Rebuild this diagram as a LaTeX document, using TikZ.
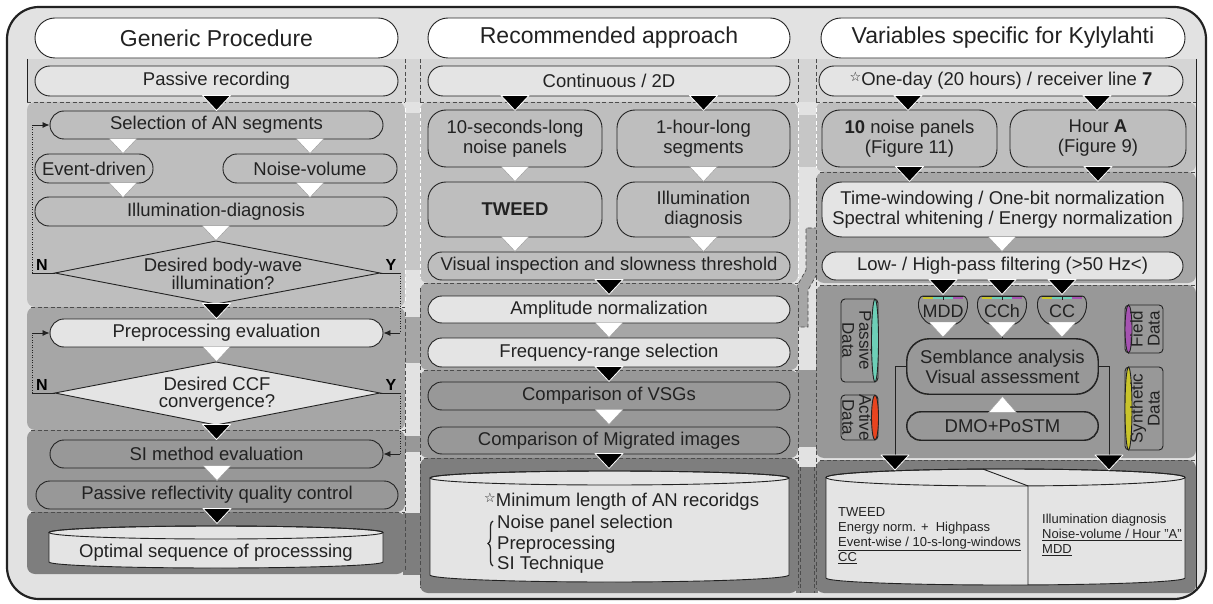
\documentclass[tikz,border=0pt]{standalone}
\usepackage{fontspec}
\setmainfont{Liberation Sans}
\newfontfamily\symfont{DejaVu Sans}
\usetikzlibrary{arrows.meta,decorations.pathreplacing}
\definecolor{bgc}{HTML}{E2E2E2}
\definecolor{lone}{HTML}{D5D5D5}
\definecolor{ltwo}{HTML}{BEBEBE}
\definecolor{lthree}{HTML}{A6A6A6}
\definecolor{lfour}{HTML}{989898}
\definecolor{lfive}{HTML}{7E7E7E}
\definecolor{lbox}{HTML}{E4E4E4}
\definecolor{gtwo}{HTML}{C6C6C6}
\definecolor{cyel}{HTML}{C9C42B}
\definecolor{cteal}{HTML}{6DCFB7}
\definecolor{cpur}{HTML}{A553B1}
\definecolor{cred}{HTML}{E8441F}
\definecolor{ink}{HTML}{222222}
\newcommand{\fsbox}{\fontsize{18.5}{20}\selectfont}
\newcommand{\fstitle}{\fontsize{23}{26}\selectfont}
\newcommand{\fssmall}{\fontsize{13}{15}\selectfont}
\newcommand{\fsdata}{\fontsize{17}{17}\selectfont}
\newcommand{\fsyn}{\fontsize{16}{16}\selectfont\bfseries}
\newcommand{\smallstar}{\raisebox{4pt}{\symfont\fontsize{13}{13}\selectfont ☆}}
\newcommand{\tridn}[2]{\filldraw[#1] #2 ++(-14,-1) -- ++(28,0) -- ++(-14,15) -- cycle;}
\newcommand{\triapex}[2]{\filldraw[#1] #2 -- ++(-14,-15) -- ++(28,0) -- cycle;}
\newcommand{\smallshape}[2]{%
  \filldraw[fill=lfour, draw=ink, line width=0.9pt] (#1-20,296) -- (#1+20,296) .. controls (#1+27,296) and (#1+27,318) .. (#1+13,324) -- (#1-13,324) .. controls (#1-27,318) and (#1-27,296) .. (#1-20,296) -- cycle;
  \fill[cyel] (#1-20,296.5) rectangle (#1-10,299);
  \fill[cteal] (#1-10,296.5) rectangle (#1+10,299);
  \fill[cpur] (#1+10,296.5) rectangle (#1+20,299);
  \draw[ink, line width=0.6pt] (#1,296) -- (#1,299.5);
  \draw[ink, line width=0.9pt] (#1-20,296) -- (#1+20,296);
  \node[font=\fontsize{18}{18}\selectfont, text=ink, inner sep=0] (#2) at (#1,311) {#2};
  \coordinate (#2b) at (#1,323);}
\newcommand{\bars}[3]{% node, radius, colour of bottom middle
  \begin{scope}
  \clip[rounded corners=#2] (#1.north west) rectangle (#1.south east);
  \fill[cyel] ([xshift=-86pt]#1.north) rectangle ([xshift=-41pt,yshift=3pt]#1.north);
  \fill[cteal] ([xshift=-41pt]#1.north) rectangle ([xshift=41pt,yshift=3pt]#1.north);
  \fill[cpur] ([xshift=41pt]#1.north) rectangle ([xshift=86pt,yshift=3pt]#1.north);
  \fill[cyel] ([xshift=-86pt]#1.south) rectangle ([xshift=-41pt,yshift=-3pt]#1.south);
  \fill[#3] ([xshift=-41pt]#1.south) rectangle ([yshift=-3pt]#1.south);
  \end{scope}
  \draw[ink, line width=0.6pt] (#1.north) -- ([yshift=3.5pt]#1.north);
  \draw[ink, line width=0.9pt, rounded corners=#2] (#1.north west) rectangle (#1.south east);}

\tikzset{
 bx/.style={draw=ink, line width=0.9pt, inner sep=0pt, text=ink, font=\fsbox, align=center},
 pill/.style={bx, rounded corners=14, minimum height=28},
 lpill/.style={pill, fill=lbox},
 ttl/.style={bx, fill=white, rounded corners=20, minimum height=40, font=\fstitle},
 bigbox/.style={bx, rounded corners=18, minimum height=57},
 btri/.style={fill=black, draw=white, line width=0.8pt, line join=round},
 wtri/.style={fill=white, draw=black!40, line width=0.4pt},
 dedge/.style={draw=black!70, line width=0.7pt, dash pattern=on 4pt off 2.5pt},
 wedge/.style={draw=white, line width=0.7pt, dash pattern=on 4pt off 2.5pt},
 outl/.style={draw=ink, line width=0.9pt},
 fb/.style={draw=ink, line width=0.8pt},
 fbd/.style={draw=ink, line width=0.8pt, dash pattern=on 1pt off 1.5pt},
 arr/.style={-{Latex[length=7pt,width=6pt]}},
 yn/.style={font=\fsyn, text=black, inner sep=0},
 datalbl/.style={font=\fsdata, text=ink, align=center, inner sep=0},
 cyltxt/.style={font=\fssmall, text=ink, align=left, inner sep=0, anchor=west},
}
\begin{document}
\begin{tikzpicture}[x=1pt,y=-1pt]
\useasboundingbox (0,0) rectangle (1213,604);
\filldraw[fill=bgc, draw=ink, line width=2.2pt, rounded corners=32] (7,7) rectangle (1206,599);

% connectors between columns
\fill[gtwo] (403,113) rectangle (422,270);
\fill[lthree] (403,317) rectangle (422,363);
\fill[lfour] (403,436) rectangle (422,452);
\fill[lfive] (403,513) rectangle (422,575);
\fill[gtwo] (796,115) rectangle (818,167);
\filldraw[fill=lthree, dedge] (818,228) -- (806,228) -- (806,270) -- (797,286) -- (797,327) -- (808,327) -- (808,290) -- (817,274) -- cycle;
\fill[lfour] (796,370) rectangle (818,447);
\fill[lfive] (796,467) rectangle (818,593);
\draw[dedge] (800,467) -- (800,593);
\draw[dedge] (814,467) -- (814,593);

% level 1 band
\fill[lone] (27,59) rectangle (1196,102);
\draw[outl, line width=0.7pt] (27,59) -- (27,102);
\foreach \xx in {405,420,798,816} \draw[dedge] (\xx,59) -- (\xx,102);

% column bands
\fill[ltwo, rounded corners=8] (27,102) rectangle (405,307);
\fill[lthree, rounded corners=8] (27,307) rectangle (405,430);
\fill[lfour, rounded corners=8] (27,430) rectangle (405,512);
\fill[lfive, rounded corners=8] (27,512) rectangle (405,574);
\fill[ltwo, rounded corners=8] (420,102) rectangle (798,283);
\fill[lthree, rounded corners=8] (420,283) rectangle (798,370);
\fill[lfour, rounded corners=8] (420,370) rectangle (798,458);
\fill[lfive, rounded corners=8] (420,458) rectangle (798,593);
\fill[ltwo, rounded corners=8] (816,102) rectangle (1196,172);
\fill[lthree, rounded corners=8] (816,172) rectangle (1196,283);
\fill[lfour, rounded corners=8] (816,285) rectangle (1196,458);
\fill[lfive, rounded corners=8] (816,460) rectangle (1196,593);

% band edges
\draw[dedge] (27,102) -- (405,102);
\draw[dedge] (420,102) -- (798,102);
\draw[dedge] (816,102) -- (1196,102);
\draw[dedge] (31,307) -- (405,307);
\draw[dedge] (31,430) -- (405,430);
\draw[dedge] (31,512) -- (405,512);
\draw[dedge] (424,283) -- (798,283);
\draw[dedge] (424,370) -- (798,370);
\draw[dedge] (424,458) -- (798,458);
\draw[dedge] (820,172) -- (1196,172);
\draw[dedge] (820,285) -- (1196,285);
\draw[dedge] (820,460) -- (1196,460);
\draw[wedge] (405,108) -- (405,302);
\draw[wedge] (420,108) -- (420,278);
\draw[wedge] (798,108) -- (798,278);
\draw[wedge] (816,108) -- (816,168);
\draw[dedge] (405,312) -- (405,570);
\draw[dedge] (420,288) -- (420,588);
\draw[dedge] (798,288) -- (798,588);
\draw[dedge] (816,178) -- (816,588);
\draw[outl, line width=0.7pt] (1196,59) -- (1196,588);

% titles
\node[ttl, minimum width=363] (t1) at (216.5,38) {Generic Procedure};
\node[ttl, minimum width=362] (t2) at (609,38) {Recommended approach};
\node[ttl, minimum width=364] (t3) at (1003,38) {Variables specific for Kylylahti};

% ---------- left column
\node[lpill, minimum width=363, minimum height=30, rounded corners=15] (pr) at (216.5,81) {Passive recording};
\node[pill, minimum width=333] (sel) at (216.5,125) {Selection of AN segments};
\node[pill, minimum width=118, minimum height=29] (ev) at (94,168.5) {Event-driven};
\node[pill, minimum width=174, minimum height=29] (nv) at (310,168.5) {Noise-volume};
\node[pill, minimum width=362, minimum height=29] (ill) at (216,211.5) {Illumination-diagnosis};
\coordinate (d1t) at (216,241);
\coordinate (d1r) at (380,273);
\coordinate (d1b) at (216,304);
\coordinate (d1l) at (55,273);
\draw[outl] (d1t) -- (d1r) -- (d1b) -- (d1l) -- cycle;
\node[font=\fontsize{18.5}{17}\selectfont, text=ink, align=center, inner sep=0] (d1) at (223,274) {Desired body-wave\\illumination?};
\node[lpill, minimum width=333] (pe) at (216.5,333) {Preprocessing evaluation};
\coordinate (d2t) at (216,362);
\coordinate (d2r) at (380,393);
\coordinate (d2b) at (216,425);
\coordinate (d2l) at (55,393);
\filldraw[outl, fill=lbox] (d2t) -- (d2r) -- (d2b) -- (d2l) -- cycle;
\node[font=\fontsize{18.5}{17}\selectfont, text=ink, align=center, inner sep=0] (d2) at (217,394) {Desired CCF\\convergence?};
\node[pill, minimum width=333] (si) at (216.5,454) {SI method evaluation};
\node[pill, minimum width=362] (prq) at (217,495) {Passive reflectivity quality control};
% cylinder
\filldraw[outl, fill=lbox] (49,532.5) -- (49,562) arc[start angle=180, end angle=0, x radius=167, y radius=6] -- (383,532.5) arc[start angle=0, end angle=-180, x radius=167, y radius=6.5] -- cycle;
\draw[outl] (216,532.5) ellipse[x radius=167, y radius=6.5];
\node[font=\fsbox, text=ink, inner sep=0] (opt) at (216,553) {Optimal sequence of processsing};

% feedback loops
\coordinate (n1) at (32,273);
\coordinate (n1t) at (32,125);
\coordinate (y1) at (400,273);
\coordinate (y1b) at (400,333);
\coordinate (n2) at (32,393);
\coordinate (n2t) at (32,333);
\coordinate (y2) at (400,393);
\coordinate (y2b) at (400,454);
\draw[fb] (d1l) -- (n1);
\draw[fbd] (n1) -- (n1t);
\draw[fb, arr] (n1t) -- (sel.west);
\draw[fb] (d1r) -- (y1);
\draw[fbd] (y1) -- (y1b);
\draw[fb, arr] (y1b) -- (pe.east);
\draw[fb] (d2l) -- (n2);
\draw[fbd] (n2) -- (n2t);
\draw[fb, arr] (n2t) -- (pe.west);
\draw[fb] (d2r) -- (y2);
\draw[fbd] (y2) -- (y2b);
\draw[fb, arr] (y2b) -- (si.east);
\node[yn] (N1) at (42,265) {N};
\node[yn] (Y1) at (391,265) {Y};
\node[yn] (N2) at (42,385) {N};
\node[yn] (Y2) at (391,385) {Y};

% left triangles
\triapex{btri}{(sel.north)}
\tridn{wtri}{([xshift=-93.5pt]sel.south)}
\tridn{wtri}{([xshift=93.5pt]sel.south)}
\tridn{wtri}{([xshift=29pt]ev.south)}
\tridn{wtri}{(nv.south)}
\tridn{wtri}{(ill.south)}
\triapex{btri}{(pe.north)}
\tridn{wtri}{(pe.south)}
\triapex{btri}{(si.north)}
\triapex{wtri}{(prq.north)}
\tridn{btri}{(prq.south)}

% ---------- middle column
\node[lpill, minimum width=362, minimum height=30, rounded corners=15] (cont) at (609,81) {Continuous / 2D};
\node[bigbox, minimum width=174] (ten) at (515,138.5) {10-seconds-long\\noise panels};
\node[bigbox, minimum width=173] (hour) at (703.5,138.5) {1-hour-long\\segments};
\node[bigbox, minimum width=174, minimum height=55] (tweed) at (515,209.5) {\textbf{TWEED}};
\node[bigbox, minimum width=173, minimum height=55] (illd) at (703.5,209.5) {Illumination\\diagnosis};
\node[pill, minimum width=362] (vis) at (609,266) {Visual inspection and slowness threshold};
\node[lpill, minimum width=362, minimum height=27] (amp) at (609,309.5) {Amplitude normalization};
\node[lpill, minimum width=362, minimum height=29] (freq) at (609,352.5) {Frequency-range selection};
\node[pill, minimum width=362] (vsg) at (609,396) {Comparison of VSGs};
\node[pill, minimum width=362, minimum height=27] (mig) at (609,440.5) {Comparison of Migrated images};
\filldraw[outl, fill=lbox] (430,478) -- (430,575) arc[start angle=180, end angle=0, x radius=179.5, y radius=7] -- (789,478) arc[start angle=0, end angle=-180, x radius=179.5, y radius=7] -- cycle;
\draw[outl] (609.5,478) ellipse[x radius=179.5, y radius=7];
\node[font=\fsbox, text=ink, inner sep=0, anchor=west] (minl) at (484,502) {\smallstar Minimum length of AN recoridgs};
\node[font=\fontsize{18.5}{20.5}\selectfont, text=ink, inner sep=0, anchor=west, align=left] (sel3) at (497,544.5) {Noise panel selection\\Preprocessing\\SI Technique};
\draw[ink, line width=1.3pt, decorate, decoration={brace, amplitude=5pt}] (493,566) -- (493,521);

\tridn{btri}{([xshift=-94pt]cont.south)}
\tridn{btri}{([xshift=94.5pt]cont.south)}
\tridn{wtri}{(ten.south)}
\tridn{wtri}{(hour.south)}
\tridn{wtri}{(tweed.south)}
\tridn{wtri}{(illd.south)}
\tridn{btri}{(vis.south)}
\tridn{wtri}{(amp.south)}
\tridn{btri}{(freq.south)}
\tridn{wtri}{(vsg.south)}
\tridn{btri}{(mig.south)}

% ---------- right column
\node[lpill, minimum width=364, minimum height=30, rounded corners=15] (oneday) at (1001,81) {\smallstar One-day (20 hours) / receiver line \textbf{7}};
\node[bigbox, minimum width=175] (np) at (909.5,138.5) {\textbf{10} noise panels\\(Figure 11)};
\node[bigbox, minimum width=176] (ha) at (1098,138.5) {Hour \textbf{A}\\(Figure 9)};
\node[bx, fill=lbox, rounded corners=20, minimum width=361, minimum height=55] (tw) at (1002.5,209.5) {Time-windowing / One-bit normalization\\Spectral whitening / Energy normalization};
\node[lpill, minimum width=361] (lh) at (1002.5,266) {Low- / High-pass filtering (>50 Hz<)};

\smallshape{943}{MDD}
\smallshape{1002}{CCh}
\smallshape{1062}{CC}

\node[bx, rounded corners=22, minimum width=191, minimum height=55] (sem) at (1002.5,366.5) {Semblance analysis\\Visual assessment};
\node[pill, minimum width=191] (dmo) at (1002.5,426) {DMO+PoSTM};
\bars{sem}{22}{cred}
\bars{dmo}{14}{cred}

% data cylinders
\filldraw[outl, fill=lfour, rounded corners=4] (841,299) rectangle (878,382);
\filldraw[outl, fill=cteal] (875,340.5) ellipse[x radius=3.5, y radius=41.5];
\node[datalbl, rotate=-90] (pasd) at (857,340.5) {Passive\\Data};
\filldraw[outl, fill=lfour, rounded corners=4] (841,395) rectangle (878,440);
\filldraw[outl, fill=cred] (875,417.5) ellipse[x radius=3.5, y radius=22.5];
\node[datalbl, rotate=-90] (actd) at (857,417.5) {Active\\Data};
\filldraw[outl, fill=lfour, rounded corners=4] (1125,305) rectangle (1163,353);
\filldraw[outl, fill=cpur] (1128.5,329) ellipse[x radius=3.5, y radius=24];
\node[datalbl, rotate=90] (fldd) at (1145,329) {Field\\Data};
\filldraw[outl, fill=lfour, rounded corners=4] (1125,367) rectangle (1163,450);
\filldraw[outl, fill=cyel] (1128.5,408.5) ellipse[x radius=3.5, y radius=41.5];
\node[datalbl, rotate=90] (synd) at (1145,408.5) {Synthetic\\Data};

% lines to results
\coordinate (sl) at (895,366.5);
\coordinate (slb) at (895,456);
\coordinate (sr) at (1109,366.5);
\coordinate (srb) at (1109,456);
\draw[fb] (sem.west) -- (sl) -- (slb);
\draw[fb] (sem.east) -- (sr) -- (srb);

% split cylinder
\filldraw[outl, fill=lbox] (826,477.5) -- (826,578) arc[start angle=180, end angle=0, x radius=179.5, y radius=7] -- (1185,477.5) arc[start angle=0, end angle=-180, x radius=179.5, y radius=8.5] -- cycle;
\draw[outl] (1005.5,477.5) ellipse[x radius=179.5, y radius=8.5];
\draw[outl] (983,469.1) -- (1028,485.9) -- (1028,584.9);
\node[cyltxt] (rl) at (838,535.5) {TWEED\\Energy norm. +\ \ Highpass\\\underline{Event-wise / 10-s-long-windows}\\\underline{CC}};
\node[cyltxt] (rr) at (1042,535) {Illumination diagnosis\\\underline{Noise-volume / Hour "A"}\\\underline{MDD}};

\tridn{btri}{([xshift=-93pt]oneday.south)}
\tridn{btri}{([xshift=96pt]oneday.south)}
\tridn{btri}{(np.south)}
\tridn{btri}{(ha.south)}
\tridn{wtri}{([xshift=-0.5pt]tw.south)}
\tridn{btri}{([xshift=-59.5pt]lh.south)}
\tridn{btri}{([xshift=-0.5pt]lh.south)}
\tridn{btri}{([xshift=59.5pt]lh.south)}
\tridn{wtri}{(MDDb)}
\tridn{wtri}{(CChb)}
\tridn{wtri}{(CCb)}
\filldraw[wtri] (dmo.north) ++(-14,1) -- ++(28,0) -- ++(-14,-16) -- cycle;
\tridn{btri}{(slb)}
\tridn{btri}{(srb)}
\end{tikzpicture}
\end{document}
